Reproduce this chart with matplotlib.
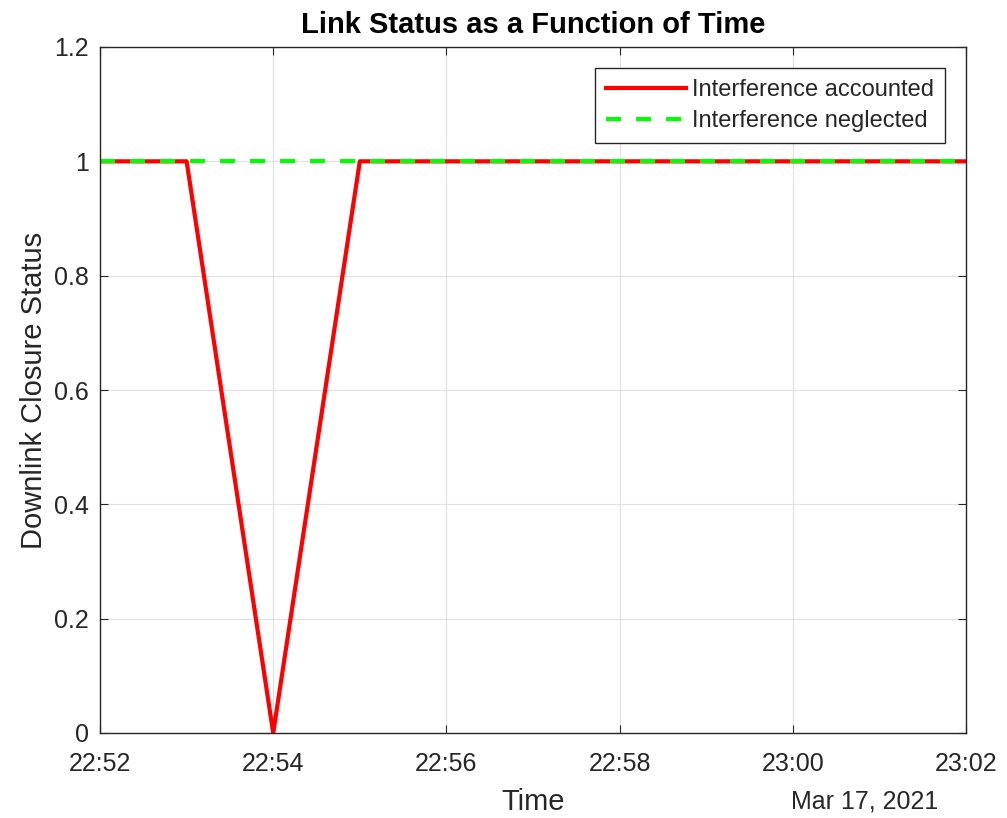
import numpy as np
import pandas as pd
import matplotlib
matplotlib.use("Agg")
import matplotlib.pyplot as plt
import matplotlib.dates as mdates

plt.rcParams['font.family'] = ['Liberation Sans', 'DejaVu Sans']

# one sample per minute, 22:52 to 23:02 on Mar 17, 2021
times = pd.date_range("2021-03-17 22:52", "2021-03-17 23:02", freq="1min")
status_accounted = [1, 1, 0, 1, 1, 1, 1, 1, 1, 1, 1]
status_neglected = [1, 1, 1, 1, 1, 1, 1, 1, 1, 1, 1]

fig = plt.figure(figsize=(10.07, 8.18), dpi=100)
ax = fig.add_axes([100 / 1007, 1 - 733 / 818, 866 / 1007, 686 / 818])

ax.plot(times, status_accounted, color="#ff0000", lw=3, label="Interference accounted")
ax.plot(times, status_neglected, color="#00ff00", lw=3, ls=(0, (3.6, 3.6)),
        label="Interference neglected")

ax.set_xlim(times[0], times[-1])
ax.set_ylim(0, 1.2)
ax.set_yticks(np.arange(0, 1.21, 0.2))
ax.set_yticklabels(["0", "0.2", "0.4", "0.6", "0.8", "1", "1.2"])
ax.xaxis.set_major_locator(mdates.MinuteLocator(byminute=range(0, 60, 2)))
ax.xaxis.set_major_formatter(mdates.DateFormatter("%H:%M"))

ax.grid(True, color="#e0e0e0", lw=0.8)
ax.tick_params(direction="in", top=True, right=True, labelsize=18, colors="#262626",
               length=6)
ax.tick_params(axis="x", pad=14)
ax.tick_params(axis="y", pad=8)
for s in ax.spines.values():
    s.set_color("#262626")
    s.set_linewidth(1.0)

ax.set_title("Link Status as a Function of Time", fontsize=21, fontweight="bold", pad=10)
ax.set_xlabel("Time", fontsize=21, color="#262626", labelpad=8)
ax.set_ylabel("Downlink Closure Status", fontsize=21, color="#262626", labelpad=4)
fig.text(865 / 1007, 1 - 801 / 818, "Mar 17, 2021", fontsize=18, color="#262626",
         ha="center", va="center")

leg = ax.legend(loc="upper right", fontsize=17, fancybox=False, framealpha=1,
                edgecolor="#262626", handlelength=3.4, handletextpad=0.25,
                borderpad=0.45, labelspacing=0.4, borderaxespad=0.9)
leg.get_frame().set_linewidth(1.0)
for t in leg.get_texts():
    t.set_color("#262626")

fig.savefig("out.png", dpi=100)
